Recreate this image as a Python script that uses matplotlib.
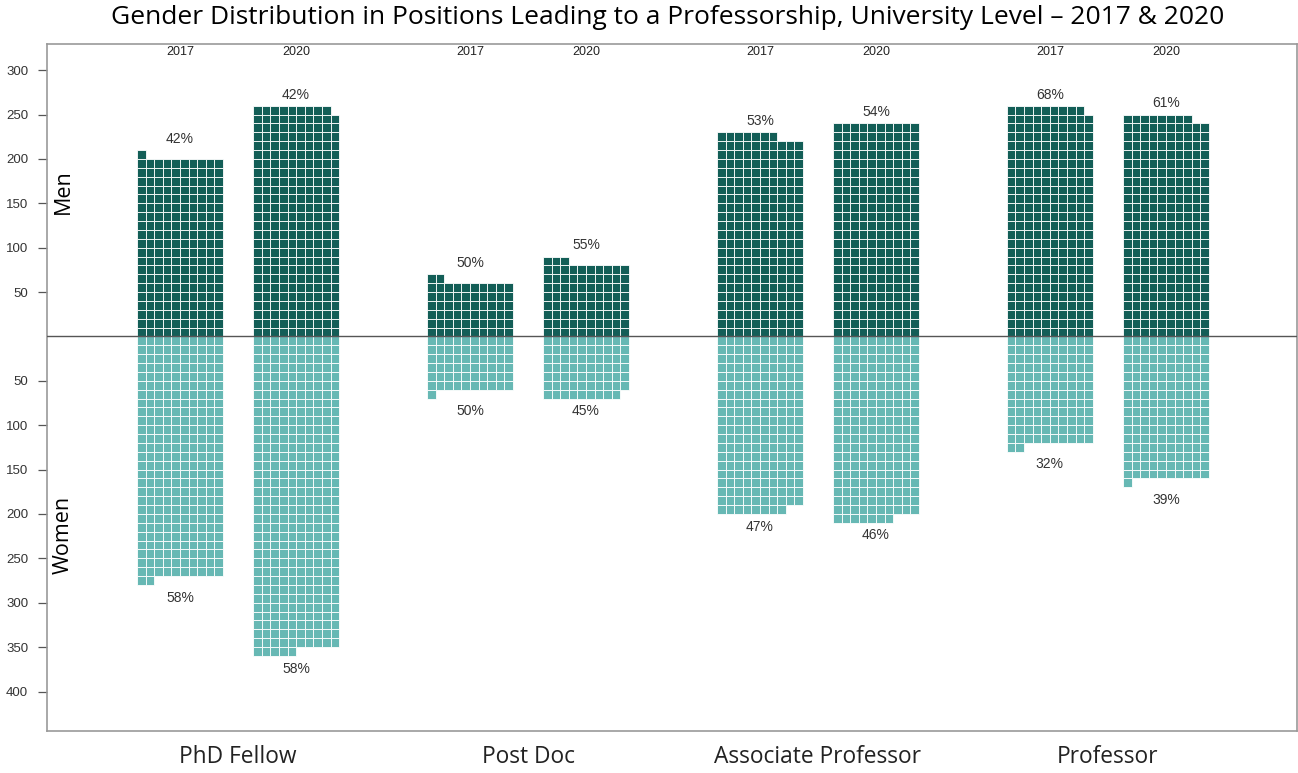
import matplotlib
matplotlib.use("Agg")
import matplotlib.pyplot as plt
import matplotlib.transforms as mtransforms
import numpy as np

# ---------------- data ----------------
categories = ["PhD Fellow", "Post Doc", "Associate Professor", "Professor"]
years = ["2017", "2020"]
men_2017 = [201, 62, 227, 259]
men_2020 = [259, 83, 240, 248]
women_2017 = [272, 61, 198, 122]
women_2020 = [355, 69, 207, 161]
men_pct_2017 = ["42%", "50%", "53%", "68%"]
men_pct_2020 = ["42%", "55%", "54%", "61%"]
women_pct_2017 = ["58%", "50%", "47%", "32%"]
women_pct_2020 = ["58%", "45%", "46%", "39%"]
men_ticks = [50, 100, 150, 200, 250, 300]
women_ticks = [50, 100, 150, 200, 250, 300, 350, 400]

# ---------------- style ----------------
MEN_COLOR = "#135e57"
WOMEN_COLOR = "#67b8b4"
PER_ROW = 10
ROW_UNITS = 10
GROUP_SPACING = 33.72
YEAR_OFFSET = 13.5

W, H = 1298, 773
fig = plt.figure(figsize=(W / 100, H / 100), dpi=100)
ax = fig.add_axes([47 / W, 42 / H, 1250 / W, 687 / H])

def waffle(x0, n, color, sign):
    idx = np.arange(n)
    cols = idx % PER_ROW
    rows = idx // PER_ROW
    xs = x0 + cols + 0.5
    if sign > 0:
        bottoms = rows * ROW_UNITS
    else:
        bottoms = -(rows + 1) * ROW_UNITS
    ax.bar(xs, ROW_UNITS, width=1.0, bottom=bottoms, color=color,
           edgecolor="white", linewidth=0.6, zorder=2)

label_font = dict(family="Liberation Sans", fontsize=10, color="#333333")

men_sets = [men_2017, men_2020]
women_sets = [women_2017, women_2020]
men_pcts = [men_pct_2017, men_pct_2020]
women_pcts = [women_pct_2017, women_pct_2020]

for g, cat in enumerate(categories):
    for k, yr in enumerate(years):
        x0 = g * GROUP_SPACING + k * YEAR_OFFSET
        m = men_sets[k][g]
        w = women_sets[k][g]
        waffle(x0, m, MEN_COLOR, +1)
        waffle(x0, w, WOMEN_COLOR, -1)
        top = int(np.ceil(m / ROW_UNITS)) * ROW_UNITS
        bot = int(np.ceil(w / ROW_UNITS)) * ROW_UNITS
        xc = x0 + PER_ROW / 2
        ax.annotate(men_pcts[k][g], (xc, top), xytext=(0, 3),
                    textcoords="offset points", ha="center", va="bottom",
                    **label_font)
        ax.annotate(women_pcts[k][g], (xc, -bot), xytext=(0, -4),
                    textcoords="offset points", ha="center", va="top",
                    **label_font)
        ax.text(xc, 320, yr, ha="center", va="center",
                family="Liberation Sans", fontsize=9, color="#222222")
    gc = g * GROUP_SPACING + (YEAR_OFFSET + PER_ROW) / 2
    ax.text(gc, -0.038, cat, transform=ax.get_xaxis_transform(),
            ha="center", va="center", family="Open Sans", fontsize=16.4,
            color="#222222")

ax.axhline(0, color="#555555", linewidth=1.0, zorder=3)

ax.set_xlim(-10.47, 134.9)
ax.set_ylim(-444.5, 329.5)

yt = men_ticks + [-v for v in women_ticks]
ax.set_yticks(yt)
ax.set_yticklabels([str(abs(v)) for v in yt], family="Liberation Sans",
                   fontsize=9.5, color="#333333")
ax.tick_params(axis="y", length=6.5, width=0.9, color="#555555", pad=7)
ax.set_xticks([])

for s in ax.spines.values():
    s.set_color("#999999")
    s.set_linewidth(1.2)

blend = mtransforms.blended_transform_factory(ax.transAxes, ax.transData)
ax.text(0.0128, 163, "Men", transform=blend, rotation=90,
        ha="center", va="center", family="Open Sans", fontsize=15.5,
        color="black")
ax.text(0.0128, -224, "Women", transform=blend, rotation=90,
        ha="center", va="center", family="Open Sans", fontsize=15.5,
        color="black")

fig.text(668 / W, 1 - 18 / H,
         "Gender Distribution in Positions Leading to a Professorship, University Level \u2013 2017 & 2020",
         ha="center", va="center", family="Open Sans", fontsize=19,
         color="black")

fig.savefig("out.png", dpi=100)
